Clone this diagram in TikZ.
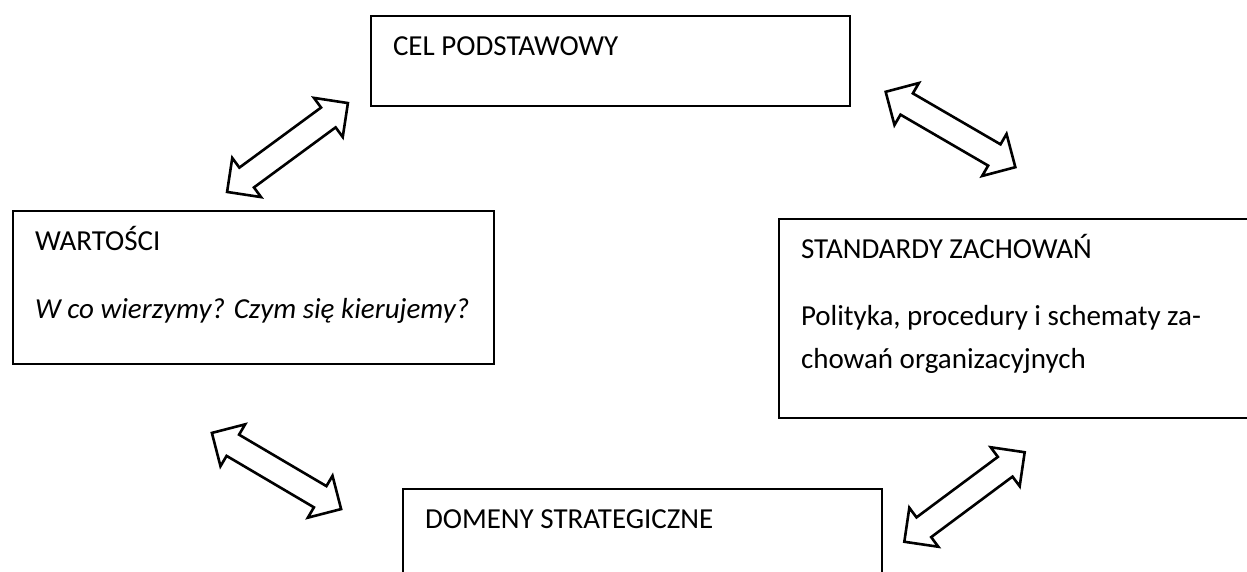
\documentclass[tikz,border=0pt]{standalone}
\usepackage{fontspec}
\setmainfont{Carlito}
\usetikzlibrary{shapes.arrows}
\newcommand{\boxfont}{\fontsize{14.5pt}{21.5pt}\selectfont}
\newcommand{\boxtext}[3]{\parbox[c][#1][t]{#2}{\strut #3}}

\begin{document}
\begin{tikzpicture}[
	x=0.5pt, y=-0.5pt,
	mybox/.style={
		draw=black,
		line width=1pt,
		anchor=north west,
		inner xsep=11pt,
		inner ysep=4.5pt,
		font=\boxfont},
	myarrow/.style={
		double arrow,
		draw=black,
		fill=white,
		line width=1.3pt,
		inner xsep=0pt,
		inner ysep=5.5pt,
		double arrow head extend=6pt,
		double arrow tip angle=90,
		minimum height=75pt}
	]
	\useasboundingbox (0,0) rectangle (1247,572);
	
	\node[mybox] (cel) at (370,15) {\boxtext{36pt}{217.5pt}{CEL PODSTAWOWY}};
	\node[mybox] (wart) at (12,210) {\boxtext{67.5pt}{218.5pt}{WARTOŚCI\\[12.5pt]
		\mbox{\itshape W co wierzymy? Czym się kierujemy?}}};
	\node[mybox] (std) at (778,218) {\boxtext{90.5pt}{219pt}{STANDARDY ZACHOWAŃ\\[12pt]
		Polityka, procedury i schematy za-\\chowań organizacyjnych}};
	\node[mybox] (dom) at (402,488) {\boxtext{71pt}{217.5pt}{DOMENY STRATEGICZNE}};
	
	% arrow ends
	\coordinate (cw1) at (227,192);
	\coordinate (cw2) at (348,103);
	\coordinate (cs1) at (886,92);
	\coordinate (cs2) at (1015,167);
	\coordinate (wd1) at (212,433);
	\coordinate (wd2) at (341,509);
	\coordinate (ds1) at (904,542);
	\coordinate (ds2) at (1025,452);
	
	\foreach \i/\j in {cw1/cw2, cs1/cs2, wd1/wd2, ds1/ds2}
	\path (\i) -- node[myarrow,sloped] {} (\j);
	
\end{tikzpicture}
\end{document}
